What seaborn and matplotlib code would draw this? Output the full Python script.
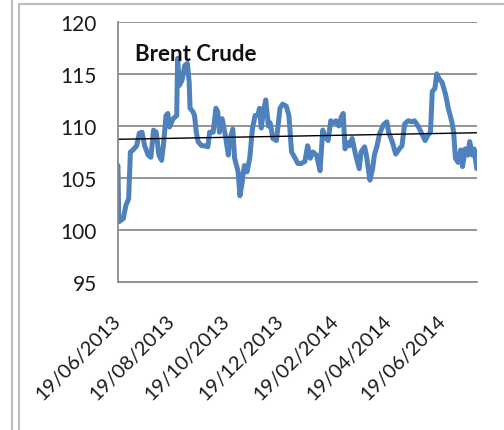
import numpy as np
import pandas as pd
import matplotlib.pyplot as plt
import matplotlib.dates as mdates
from matplotlib.lines import Line2D
import seaborn as sns

# Brent Crude daily price (days after 19/06/2013, USD)
start = "2013-06-19"
day_offsets = [0, 1, 6, 9, 12, 14, 17, 21, 24, 27, 30, 34, 37, 40, 43, 46, 49, 51, 54, 56,
               58, 62, 66, 67, 69, 72, 75, 78, 80, 81, 84, 86, 88, 90, 94, 97, 101, 103, 107, 110,
               112, 114, 117, 120, 124, 125, 129, 131, 135, 137, 139, 142, 145, 148, 151, 154, 157, 159, 161, 163,
               166, 169, 171, 174, 178, 182, 185, 189, 192, 195, 199, 202, 206, 210, 213, 216, 219, 223, 227, 230,
               232, 236, 239, 242, 245, 248, 251, 253, 255, 258, 260, 263, 267, 271, 273, 277, 279, 283, 286, 288,
               291, 294, 298, 302, 304, 308, 312, 316, 319, 322, 326, 330, 333, 337, 341, 345, 348, 351, 353, 356,
               358, 361, 364, 368, 371, 375, 377, 379, 382, 385, 387, 390, 393, 395, 398, 400, 403]
price = [106.2, 100.8, 101.1, 102.4, 103.0, 107.5, 107.7, 108.1, 109.3, 109.4, 108.1, 107.2, 107.0, 109.6, 109.4, 107.2, 106.7, 108.1, 111.0, 111.2,
         109.9, 110.7, 111.0, 116.5, 113.9, 114.4, 115.8, 116.0, 114.2, 111.7, 111.4, 111.0, 109.4, 108.5, 108.1, 108.1, 108.0, 109.4, 109.4, 111.7,
         111.4, 109.4, 110.7, 109.4, 107.2, 108.5, 109.7, 106.9, 105.6, 103.3, 104.3, 106.2, 105.6, 106.9, 109.7, 111.0, 111.0, 111.7, 109.8, 111.2,
         112.5, 110.0, 110.3, 108.8, 108.6, 111.7, 112.1, 111.9, 111.0, 107.5, 106.9, 106.4, 106.4, 106.6, 108.1, 106.9, 107.5, 107.2, 105.7, 109.6,
         109.1, 108.6, 110.5, 110.3, 110.5, 110.0, 110.9, 111.2, 107.8, 108.4, 108.1, 108.8, 107.2, 105.9, 107.5, 108.0, 107.2, 104.8, 105.9, 107.2,
         108.1, 109.3, 110.1, 110.4, 109.4, 108.5, 107.3, 107.8, 108.1, 110.2, 110.5, 110.4, 110.5, 110.0, 109.3, 108.6, 109.1, 109.4, 113.3, 113.6,
         115.0, 114.5, 114.2, 113.0, 111.7, 110.4, 109.4, 106.9, 106.5, 107.7, 106.1, 107.8, 107.2, 108.5, 107.2, 107.8, 105.9]
tick_labels = ["19/06/2013", "19/08/2013", "19/10/2013", "19/12/2013",
               "19/02/2014", "19/04/2014", "19/06/2014"]

df = pd.DataFrame({"date": pd.Timestamp(start) + pd.to_timedelta(day_offsets, unit="D"),
                   "price": price})

sns.set_style("white")
plt.rcParams["font.family"] = ["Lato", "DejaVu Sans"]

fig = plt.figure(figsize=(5.04, 4.31), dpi=100)
ax = fig.add_axes([0.234, 0.343, 0.712, 0.604])

# gridlines first so the series sits on top
ax.set_ylim(95, 120)
ax.set_yticks([95, 100, 105, 110, 115, 120])
ax.yaxis.grid(True, color="#8c8c8c", linewidth=1.3)
ax.set_axisbelow(True)

sns.lineplot(data=df, x="date", y="price", color="#4F81BD", linewidth=3.6, ax=ax)

# linear trend line
coef = np.polyfit(day_offsets, price, 1)
ax.plot(df["date"], np.polyval(coef, day_offsets), color="black", linewidth=1.0)

ax.set_xlim(df["date"].iloc[0], df["date"].iloc[-1])
ax.set_xticks(pd.to_datetime(tick_labels, format="%d/%m/%Y"))
ax.xaxis.set_major_formatter(mdates.DateFormatter("%d/%m/%Y"))
ax.tick_params(axis="both", length=0, colors="#1a1a1a")
ax.tick_params(axis="y", pad=15, labelsize=15)
ax.tick_params(axis="x", pad=25, labelsize=14.5)
plt.setp(ax.get_xticklabels(), rotation=45, ha="right", va="center", rotation_mode="anchor")
ax.set_xlabel("")
ax.set_ylabel("")

for s in ["top", "right"]:
    ax.spines[s].set_visible(False)
for s in ["left", "bottom"]:
    ax.spines[s].set_color("#8c8c8c")
    ax.spines[s].set_linewidth(1.3)

ax.text(0.047, 0.88, "Brent Crude", transform=ax.transAxes, fontsize=16,
        fontweight="bold", va="center", ha="left", color="#111111")

# chart frame borders
fig.add_artist(Line2D([12 / 504, 12 / 504], [0, 1], color="#bdbdbd", linewidth=1.5))
fig.add_artist(Line2D([19 / 504, 19 / 504], [0, 1 - 5 / 431], color="#bdbdbd", linewidth=1.5))
fig.add_artist(Line2D([19 / 504, 1], [1 - 5 / 431, 1 - 5 / 431], color="#bdbdbd", linewidth=1.5))

fig.savefig("out.png", dpi=100)
